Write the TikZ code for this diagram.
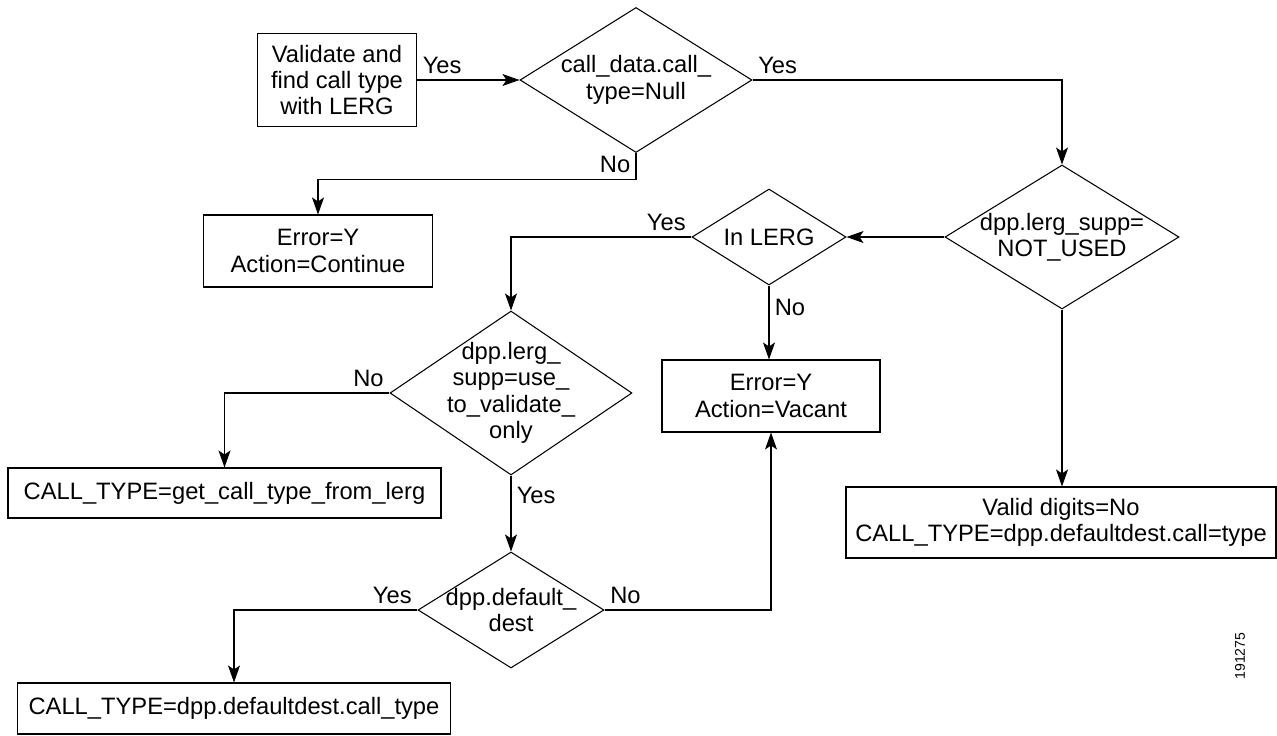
\documentclass[tikz,border=0pt]{standalone}
\usepackage{fontspec}
\setmainfont{Liberation Sans}
\usetikzlibrary{arrows.meta,positioning,calc,shapes.geometric}

\begin{document}
\begin{tikzpicture}[
    font=\fontsize{13.5}{15}\selectfont,
    box/.style={draw, align=center, inner sep=2pt, line width=0.6pt},
    dec/.style={draw, diamond, inner sep=0pt, line width=0.6pt},
    txt/.style={align=center, inner sep=0pt},
    lbl/.style={inner sep=3pt},
    ar/.style={-{Stealth[length=0.34cm, width=0.24cm, inset=0.08cm]}, line width=0.6pt},
  ]
    \useasboundingbox (0,0) rectangle (25.54,-14.72);
    \node[box, minimum width=3.18cm, minimum height=1.86cm] (val) at (6.74,-1.6) {Validate and\\find call type\\with LERG};
    \node[dec, minimum width=4.64cm, minimum height=2.9cm] (d1) at (12.72,-1.6) {};
    \node[txt] (d1t) at (d1) {call\_data.call\_\\type=Null};
    \node[box, minimum width=4.58cm, minimum height=1.44cm] (errc) at (6.36,-5.02) {Error=Y\\Action=Continue};
    \node[dec, minimum width=4.68cm, minimum height=2.88cm] (d2) at (21.24,-4.74) {};
    \node[txt] (d2t) at (d2) {dpp.lerg\_supp=\\NOT\_USED};
    \node[dec, minimum width=3.08cm, minimum height=1.92cm] (inlerg) at (15.38,-4.74) {};
    \node[txt] (inlergt) at (inlerg) {In LERG};
    \node[box, minimum width=4.36cm, minimum height=1.44cm] (errv) at (15.42,-7.92) {Error=Y\\Action=Vacant};
    \node[dec, minimum width=4.84cm, minimum height=3.28cm] (d3) at (10.22,-7.86) {};
    \node[txt] (d3t) at (d3) {dpp.lerg\_\\supp=use\_\\to\_validate\_\\only};
    \node[box, minimum width=8.66cm, minimum height=1.0cm] (getct) at (4.49,-9.86) {CALL\_TYPE=get\_call\_type\_from\_lerg};
    \node[dec, minimum width=3.72cm, minimum height=2.32cm] (d4) at (10.22,-12.2) {};
    \node[txt] (d4t) at (d4) {dpp.default\_\\dest};
    \node[box, minimum width=8.67cm, minimum height=1.02cm] (defct) at (4.68,-14.17) {CALL\_TYPE=dpp.defaultdest.call\_type};
    \node[box, minimum width=8.6cm, minimum height=1.42cm] (valid) at (21.22,-10.45) {Valid digits=No\\CALL\_TYPE=dpp.defaultdest.call=type};
    \node[rotate=90, font=\fontsize{8}{9}\selectfont] (figno) at (24.8,-13.12) {191275};
    \draw[ar] (val) -- node[lbl, above right, pos=0] (l1) {Yes} (d1);
    \draw[ar] (d1.east) -| node[lbl, above right, pos=0] (l2) {Yes} (d2.north);
    \draw[ar] (d1.south) -- node[lbl, left, pos=0.45] (l3) {No} ++(0,-0.52) -| (errc.north);
    \draw[ar] (d2) -- (inlerg);
    \draw[ar] (inlerg.south) -- node[lbl, right, pos=0.3] (l4) {No} (inlerg.south |- errv.north);
    \draw[ar] (inlerg.west) -| node[lbl, above left, pos=0] (l5) {Yes} (d3.north);
    \draw[ar] (d3.west) -| node[lbl, above left, pos=0] (l6) {No} (getct.north);
    \draw[ar] (d3.south) -- node[lbl, right, pos=0.26] (l7) {Yes} (d4.north);
    \draw[ar] (d4.west) -| node[lbl, above left, pos=0] (l8) {Yes} (defct.north);
    \draw[ar] (d4.east) -| node[lbl, above right, pos=0] (l9) {No} (errv.south);
    \draw[ar] (d2.south) -- (d2.south |- valid.north);
  \end{tikzpicture}
\end{document}
